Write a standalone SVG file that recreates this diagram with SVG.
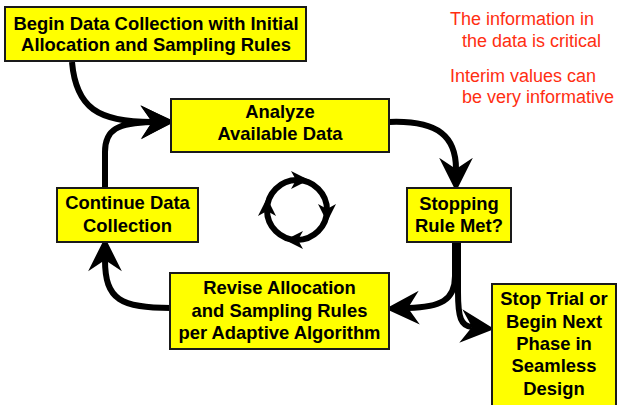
<svg xmlns="http://www.w3.org/2000/svg" width="618" height="405" viewBox="0 0 618 405">
  <style>
    .box { fill: #ffff00; stroke: #1a1a1a; stroke-width: 2; }
    .lbl { font-family: "Liberation Sans", Arial, sans-serif; font-weight: bold; font-size: 18.4px; fill: #000; text-anchor: middle; }
    .note { font-family: "Liberation Sans", Arial, sans-serif; font-size: 18px; fill: #ff2e12; }
    .link { fill: none; stroke: #000; stroke-width: 6; marker-end: url(#stealth); }
    .ring { fill: none; stroke: #000; stroke-width: 6; }
  </style>
  <defs>
    <!-- barbed arrowhead; origin sits at the notch, tip 18px ahead -->
    <marker id="stealth" markerUnits="userSpaceOnUse" markerWidth="40" markerHeight="40" viewBox="-12 -16 32 32" refX="0" refY="0" orient="auto" overflow="visible">
      <path d="M18,0 L-9,-13.5 L0,0 L-9,13.5 Z" fill="#000"/>
    </marker>
    <!-- small arrowhead for the cycle ring -->
    <path id="ringHead" d="M10,0 L-8,-9 L-3,0 L-8,9 Z" fill="#000"/>
  </defs>

  <!-- connectors -->
  <g id="connectors">
    <path class="link" d="M72,62 C76,108 98,122 152,122"/>
    <path class="link" d="M105,188 L105,152 C105,129 118,123 152,122"/>
    <path class="link" d="M389,122 C440,120 456,138 456,169"/>
    <path class="link" d="M455,242 L455,276 C455,301 440,307 408,308"/>
    <path class="link" d="M458,242 L458,292 C458,318 461,326 472,327"/>
    <path class="link" d="M171,308 C121,308 105,300 105,260"/>
  </g>

  <!-- cycle symbol -->
  <g id="cycle">
    <circle class="ring" cx="297" cy="210" r="30"/>
    <use href="#ringHead" transform="translate(299,180)"/>
    <use href="#ringHead" transform="rotate(90 297 210) translate(299,180)"/>
    <use href="#ringHead" transform="rotate(180 297 210) translate(299,180)"/>
    <use href="#ringHead" transform="rotate(270 297 210) translate(299,180)"/>
  </g>

  <g id="begin">
    <rect class="box" x="5" y="7" width="301" height="54"/>
    <text class="lbl" x="156" y="30">Begin Data Collection with Initial</text>
    <text class="lbl" x="156" y="51">Allocation and Sampling Rules</text>
  </g>

  <g id="analyze">
    <rect class="box" x="171" y="99" width="218" height="53"/>
    <text class="lbl" x="280" y="118">Analyze</text>
    <text class="lbl" x="280" y="140">Available Data</text>
  </g>

  <g id="stopping">
    <rect class="box" x="407" y="188" width="104" height="54"/>
    <text class="lbl" x="459" y="210">Stopping</text>
    <text class="lbl" x="459" y="232">Rule Met?</text>
  </g>

  <g id="continue">
    <rect class="box" x="57" y="188" width="141" height="54"/>
    <text class="lbl" x="127.5" y="209">Continue Data</text>
    <text class="lbl" x="127.5" y="232">Collection</text>
  </g>

  <g id="revise">
    <rect class="box" x="170" y="273" width="219" height="76"/>
    <text class="lbl" x="279.5" y="294">Revise Allocation</text>
    <text class="lbl" x="279.5" y="317">and Sampling Rules</text>
    <text class="lbl" x="279.5" y="339">per Adaptive Algorithm</text>
  </g>

  <g id="stop">
    <rect class="box" x="492" y="284" width="124" height="130"/>
    <text class="lbl" x="554" y="305">Stop Trial or</text>
    <text class="lbl" x="554" y="328">Begin Next</text>
    <text class="lbl" x="554" y="350">Phase in</text>
    <text class="lbl" x="554" y="372">Seamless</text>
    <text class="lbl" x="554" y="395">Design</text>
  </g>

  <g id="notes">
    <text class="note" x="450" y="25">The information in</text>
    <text class="note" x="462" y="47">the data is critical</text>
    <text class="note" x="450" y="82">Interim values can</text>
    <text class="note" x="462" y="103">be very informative</text>
  </g>
</svg>
